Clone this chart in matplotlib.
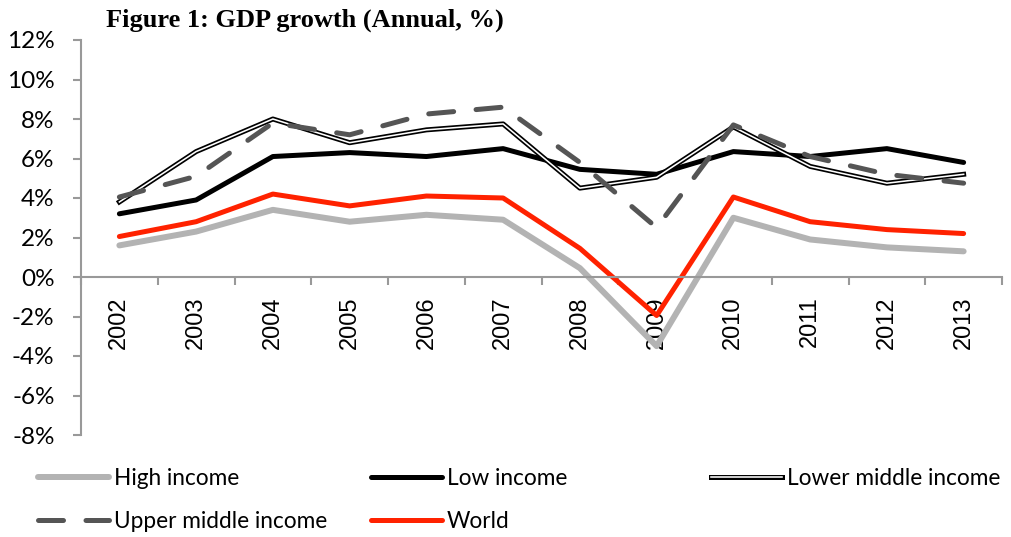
import matplotlib
matplotlib.use("Agg")
import matplotlib.pyplot as plt
from matplotlib.legend_handler import HandlerTuple
from matplotlib.ticker import FixedLocator, FuncFormatter

years = ["2002", "2003", "2004", "2005", "2006", "2007",
         "2008", "2009", "2010", "2011", "2012", "2013"]
high_income = [1.6, 2.3, 3.4, 2.8, 3.15, 2.9, 0.45, -3.5, 3.0, 1.9, 1.5, 1.3]
low_income = [3.2, 3.9, 6.1, 6.3, 6.1, 6.5, 5.45, 5.2, 6.35, 6.1, 6.5, 5.8]
lower_middle = [3.8, 6.35, 8.0, 6.8, 7.45, 7.75, 4.5, 5.05, 7.6, 5.6, 4.75, 5.2]
upper_middle = [4.05, 5.1, 7.8, 7.2, 8.25, 8.6, 5.8, 2.5, 7.7, 6.1, 5.2, 4.75]
world = [2.05, 2.8, 4.2, 3.6, 4.1, 4.0, 1.45, -1.95, 4.05, 2.8, 2.4, 2.2]

AXIS_GRAY = "#999999"
PX = 0.72  # points per pixel at 100 dpi

fig = plt.figure(figsize=(10.11, 5.37), dpi=100)
ax = fig.add_axes([81 / 1011, 1 - 435 / 537, 921 / 1011, 395 / 537])

x = list(range(len(years)))
l_high, = ax.plot(x, high_income, color="#b3b3b3", lw=6 * PX, solid_capstyle="round")
l_low, = ax.plot(x, low_income, color="black", lw=5 * PX, solid_capstyle="round")
l_lm_out, = ax.plot(x, lower_middle, color="black", lw=5 * PX)
l_lm_in, = ax.plot(x, lower_middle, color="white", lw=1.6 * PX)
l_um, = ax.plot(x, upper_middle, color="#555555", lw=5 * PX, dashes=(5, 4.5),
                dash_capstyle="round")
l_world, = ax.plot(x, world, color="#ff2200", lw=5 * PX, solid_capstyle="round")

ax.set_xlim(-0.5, len(years) - 0.5)
ax.set_ylim(-8, 12)
ax.set_yticks(range(-8, 13, 2))
ax.yaxis.set_major_formatter(FuncFormatter(lambda v, p: f"{int(v)}%"))

for s in ["top", "right"]:
    ax.spines[s].set_visible(False)
ax.spines["bottom"].set_position(("data", 0))
for s in ["left", "bottom"]:
    ax.spines[s].set_color(AXIS_GRAY)
    ax.spines[s].set_linewidth(1.5)

ax.xaxis.set_major_locator(FixedLocator([i - 0.5 for i in range(len(years) + 1)]))
ax.xaxis.set_major_formatter(FuncFormatter(lambda v, p: ""))
ax.xaxis.set_minor_locator(FixedLocator(x))
ax.set_xticklabels(years, minor=True, rotation=90, fontsize=17,
                   family="Liberation Sans", va="top")
ax.tick_params(axis="x", which="major", length=6, width=1.5, color=AXIS_GRAY, direction="out")
ax.tick_params(axis="x", which="minor", length=0, pad=14)
ax.tick_params(axis="y", length=6, width=1.5, color=AXIS_GRAY, pad=13, labelsize=17.5)
for t in ax.get_yticklabels():
    t.set_family("Lato")

fig.text(305 / 1011, 1 - 20 / 537, "Figure 1: GDP growth (Annual, %)", ha="center",
         va="center", fontsize=19, fontweight="bold", family="Liberation Serif")

leg_cols = [
    ([l_high, l_um], ["High income", "Upper middle income"], 38),
    ([l_low, l_world], ["Low income", "World"], 371),
    ([(l_lm_out, l_lm_in)], ["Lower middle income"], 711),
]
for handles, labels, xpx in leg_cols:
    fig.legend(handles, labels, loc="upper left", bbox_to_anchor=(xpx / 1011, 1 - 468 / 537),
               handler_map={tuple: HandlerTuple(ndivide=1)},
               frameon=False, handlelength=3.15, handletextpad=0.2,
               labelspacing=0.95, borderaxespad=0, borderpad=0,
               prop={"family": "Lato", "size": 16.3})

fig.savefig("out.png", dpi=100)
